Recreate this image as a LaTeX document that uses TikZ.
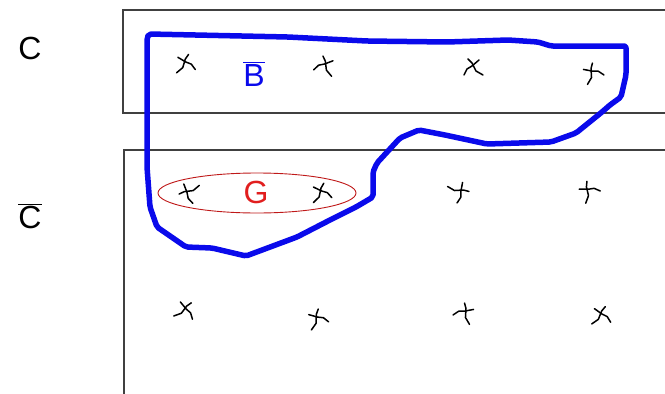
\documentclass[tikz,border=0pt]{standalone}
\usepackage{fontspec}
\setmainfont{Liberation Sans}
\usetikzlibrary{positioning, calc}

\definecolor{penblue}{RGB}{10,10,235}
\definecolor{penred}{RGB}{225,30,30}

\tikzset{
    box/.style={draw=black!75, line width=1.1pt},
    lbl/.style={font=\fontsize{32}{34}\selectfont, inner sep=0pt},
    loop/.style={draw=penblue, line width=5.5pt, line join=round, rounded corners=2pt},
    scrawl/.pic={
        \draw[line width=1.5pt, line cap=round, line join=round] (-11,8) -- (-4,4) -- (0,-4) -- (4,-8);
        \draw[line width=1.5pt, line cap=round, line join=round] (-7,-7) -- (0,-1) -- (5,2) -- (8,8);
    }
}

\begin{document}
\begin{tikzpicture}[x=1pt, y=-1pt]
\useasboundingbox (0,0) rectangle (665,394);

% Rahmen
\draw[box] (665,10) -- (123,10) -- (123,113) -- (665,113);
\draw[box] (665,150) -- (124,150) -- (124,394);

% Beschriftung links
\node[lbl] (c) at (30,48) {C};
\node[lbl] (cbar) at (30,216) {$\overline{\hbox{C}}$};

% Markierungen
\foreach \x/\y/\r/\s [count=\i] in {186/63/10/1, 324/65/-20/-1, 472/67/0/-1, 593/72/30/1,
        188/193/70/-1, 322/192/15/1, 460/192/-60/1, 589/190/40/1,
        186/310/-10/1, 318/318/25/1, 464/312/-30/-1, 602/315/5/1}
    \pic[rotate=\r, xscale=\s] (m\i) at (\x,\y) {scrawl};

% Mengen
\node[lbl, text=penblue] (b) at (254,74) {$\overline{\hbox{B}}$};
\node[lbl, text=penred] (g) at (256,192) {G};
\draw[draw=penred!85!black, line width=0.9pt] (257,193) ellipse (99 and 20);

\draw[loop] (147,38) -- (149,34) -- (288,37) -- (367,41) -- (447,42) -- (508,40) -- (538,42)
    -- (551,46) -- (626,46) -- (626,75) -- (621,97) -- (610,105) -- (602,112)
    -- (576,133) -- (551,142) -- (487,144) -- (445,135) -- (419,130) -- (400,138)
    -- (377,163) -- (373,172) -- (373,197) -- (356,207) -- (330,220) -- (297,237)
    -- (246,256) -- (212,248) -- (186,247) -- (157,227) -- (150,207) -- (147,167)
    -- cycle;

\end{tikzpicture}
\end{document}
